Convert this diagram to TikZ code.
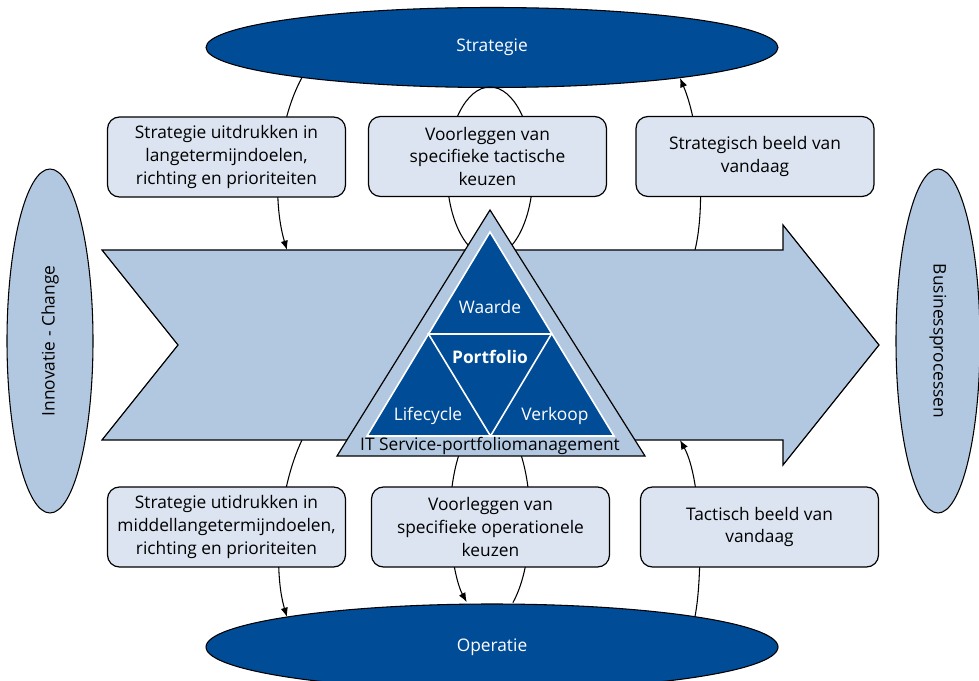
\documentclass[tikz,border=0pt]{standalone}
\usepackage{fontspec}
\setmainfont{Open Sans}
\usetikzlibrary{arrows.meta,shapes.geometric}

\definecolor{darkblue}{RGB}{0,76,151}
\definecolor{lightblue}{RGB}{178,200,224}
\definecolor{boxfill}{RGB}{219,228,240}

\begin{document}
\begin{tikzpicture}[x=0.75pt,y=-0.75pt,
  txt/.style={font=\fontsize{13}{16.9}\selectfont},
  darkoval/.style={ellipse,draw=black,line width=0.8pt,fill=darkblue,
    text=white,inner sep=0pt,outer sep=0pt,txt},
  lightoval/.style={ellipse,draw=black,line width=0.8pt,fill=lightblue,
    text=black,inner sep=0pt,outer sep=0pt,txt},
  infobox/.style={rectangle,rounded corners=9pt,draw=black,line width=0.9pt,
    fill=boxfill,minimum width=178.5pt,minimum height=60pt,align=center,
    inner sep=2pt,txt},
  conn/.style={draw=black,line width=0.8pt},
  tip/.style={-{Latex[length=7pt,width=5.5pt]}},
  tlabel/.style={text=white,txt},
]
\useasboundingbox (0,0) rectangle (979,681);

% the four ovals
\node[darkoval,minimum width=429pt,minimum height=60pt] (strat) at (492,47.5) {Strategie};
\node[darkoval,minimum width=429pt,minimum height=64.5pt] (oper) at (492,647) {Operatie};
\node[lightoval,minimum width=64.5pt,minimum height=258pt] (innov) at (50,341) {};
\node[rotate=90,txt] (innovtxt) at (innov.center) {Innovatie - Change};
\node[lightoval,minimum width=63pt,minimum height=258pt] (bus) at (938,341) {};
\node[rotate=-90,txt] (bustxt) at (bus.center) {Businessprocessen};

% points on the rims of the two dark ovals
\coordinate (s1) at (302,77.5);
\coordinate (s3) at (680,78);
\coordinate (o4) at (287,617);
\coordinate (o6) at (695,616.5);
\coordinate (loopR) at (512.9,602.6);

% attachment points on the central arrow
\coordinate (a1) at (287,250);
\coordinate (a3) at (695,250);
\coordinate (a4) at (302,440);
\coordinate (a6) at (680,440);

% feedback curves
\draw[conn,tip] (s1) .. controls (276,125) and (272,200) .. (a1);
\draw[conn,tip] (a3) .. controls (706,205) and (700,125) .. (s3);
\draw[conn] (490,172) ellipse [x radius=43, y radius=85];
\draw[conn,tip] (loopR) arc[start angle=55, end angle=-234.5, x radius=40, y radius=102];
\draw[conn,tip] (a4) .. controls (278,490) and (273,570) .. (o4);
\draw[conn,tip] (o6) .. controls (703,575) and (702,480) .. (a6);

% central arrow
\draw[fill=lightblue,line width=0.9pt,line join=miter]
  (102,250) -- (783,250) -- (783,225) -- (879,345) -- (783,465)
  -- (783,440) -- (102,440) -- (178,345) -- cycle;

% portfolio triangle
\draw[fill=lightblue,line width=0.9pt] (490,210) -- (645,456) -- (337,456) -- cycle;
\draw[fill=darkblue,draw=white,line width=1.2pt,line join=miter]
  (490,232) -- (614,436) -- (367,436) -- cycle;
\draw[white,line width=1.2pt] (428.5,334) -- (551.5,334) -- (490.5,436) -- cycle;
\node[tlabel] (waarde) at (490,307) {Waarde};
\node[tlabel,font=\fontsize{13}{16.9}\selectfont\bfseries] (portfolio) at (490,357) {Portfolio};
\node[tlabel] (lifecycle) at (428,416) {Lifecycle};
\node[tlabel] (verkoop) at (555,416) {Verkoop};
\node[txt] (itspm) at (490,446) {IT Service-portfoliomanagement};

% text boxes
\node[infobox] (b1) at (226.5,157) {Strategie uitdrukken in\\langetermijndoelen,\\richting en prioriteiten};
\node[infobox] (b2) at (487.5,156.5) {Voorleggen van\\specifieke tactische\\keuzen};
\node[infobox] (b3) at (755,156.5) {Strategisch beeld van\\vandaag};
\node[infobox] (b4) at (226.5,527) {Strategie utidrukken in\\middellangetermijndoelen,\\richting en prioriteiten};
\node[infobox] (b5) at (490.5,527) {Voorleggen van\\specifieke operationele\\keuzen};
\node[infobox] (b6) at (759.5,527) {Tactisch beeld van\\vandaag};
\end{tikzpicture}
\end{document}
